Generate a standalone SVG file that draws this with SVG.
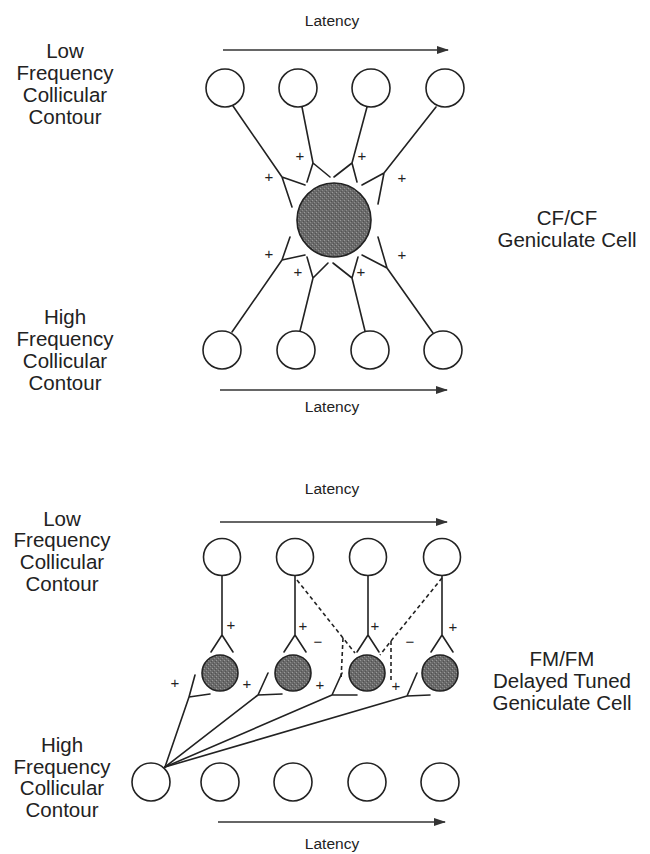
<svg xmlns="http://www.w3.org/2000/svg" width="650" height="854" viewBox="0 0 650 854">
  <defs>
    <style>
      .lbl { font-family: "Liberation Sans", Arial, Helvetica, sans-serif; font-size: 20.5px; fill: #222; text-anchor: middle; }
      .lat { font-family: "Liberation Sans", Arial, Helvetica, sans-serif; font-size: 15.5px; fill: #222; text-anchor: middle; }
      .sgn { font-family: "Liberation Sans", Arial, Helvetica, sans-serif; font-size: 15px; fill: #222; text-anchor: middle; }
      .cell { fill: #fff; stroke: #222; stroke-width: 1.6; }
      .geni { fill: url(#stipple); stroke: #222; stroke-width: 1.6; }
      .ax { fill: none; stroke: #222; stroke-width: 1.6; stroke-linecap: round; stroke-linejoin: round; }
      .inh { fill: none; stroke: #222; stroke-width: 1.6; stroke-dasharray: 4 3; }
      .time { fill: none; stroke: #333; stroke-width: 1.6; marker-end: url(#head); }
    </style>
    <pattern id="stipple" width="4" height="4" patternUnits="userSpaceOnUse">
      <rect width="4" height="4" fill="#6a6a6a"/>
      <rect x="0" y="0" width="1" height="1" fill="#9a9a9a"/>
      <rect x="2" y="2" width="1" height="1" fill="#8c8c8c"/>
      <rect x="3" y="1" width="1" height="1" fill="#505050"/>
      <rect x="1" y="3" width="1" height="1" fill="#555"/>
    </pattern>
    <marker id="head" markerWidth="12" markerHeight="8" refX="11" refY="4" orient="auto" markerUnits="userSpaceOnUse">
      <path d="M0,0 L12,4 L0,8 Z" fill="#333"/>
    </marker>
  </defs>

  <rect width="650" height="854" fill="#fff"/>

  <!-- ===== Upper panel: CF/CF ===== -->
  <g id="latency-top-1">
    <text class="lat" x="332" y="26">Latency</text>
    <line class="time" x1="223" y1="50" x2="448" y2="50"/>
  </g>
  <g id="label-low-1">
    <text class="lbl" x="65" y="58">Low</text>
    <text class="lbl" x="65" y="80">Frequency</text>
    <text class="lbl" x="65" y="102">Collicular</text>
    <text class="lbl" x="65" y="124">Contour</text>
  </g>
  <g id="label-high-1">
    <text class="lbl" x="65" y="324">High</text>
    <text class="lbl" x="65" y="346">Frequency</text>
    <text class="lbl" x="65" y="368">Collicular</text>
    <text class="lbl" x="65" y="390">Contour</text>
  </g>
  <g id="label-cfcf">
    <text class="lbl" x="567" y="225">CF/CF</text>
    <text class="lbl" x="567" y="247">Geniculate Cell</text>
  </g>

  <g id="connectors-1">
    <!-- low-frequency inputs -->
    <path class="ax" d="M233,106 L282,177 M305,185 L282,177 L292,207"/>
    <path class="ax" d="M302,107 L313,163 M307,182 L313,163 L330,177"/>
    <path class="ax" d="M367,107 L352,163 M334,177 L352,163 L357,182"/>
    <path class="ax" d="M436,107 L384,173 M362,185 L384,173 L378,204"/>
    <!-- high-frequency inputs -->
    <path class="ax" d="M232,332 L282,260 M305,255 L282,260 L290,237"/>
    <path class="ax" d="M300,331 L313,278 M307,257 L313,278 L328,263"/>
    <path class="ax" d="M365,331 L352,278 M333,263 L352,278 L358,257"/>
    <path class="ax" d="M433,333 L387,268 M362,255 L387,268 L378,237"/>
    <text class="sgn" x="300" y="161">+</text>
    <text class="sgn" x="362" y="161">+</text>
    <text class="sgn" x="269" y="182">+</text>
    <text class="sgn" x="402" y="183">+</text>
    <text class="sgn" x="269" y="259">+</text>
    <text class="sgn" x="298" y="277">+</text>
    <text class="sgn" x="361" y="277">+</text>
    <text class="sgn" x="402" y="260">+</text>
  </g>

  <g id="lf1-1"><circle class="cell" cx="225" cy="88" r="19"/></g>
  <g id="lf1-2"><circle class="cell" cx="298" cy="88" r="19"/></g>
  <g id="lf1-3"><circle class="cell" cx="371" cy="88" r="19"/></g>
  <g id="lf1-4"><circle class="cell" cx="445" cy="88" r="19"/></g>
  <g id="cfcf-cell"><circle class="geni" cx="334" cy="220" r="37"/></g>
  <g id="hf1-1"><circle class="cell" cx="222" cy="350" r="19"/></g>
  <g id="hf1-2"><circle class="cell" cx="296" cy="350" r="19"/></g>
  <g id="hf1-3"><circle class="cell" cx="370" cy="350" r="19"/></g>
  <g id="hf1-4"><circle class="cell" cx="443" cy="350" r="19"/></g>

  <g id="latency-bottom-1">
    <line class="time" x1="220" y1="390" x2="447" y2="390"/>
    <text class="lat" x="332" y="412">Latency</text>
  </g>

  <!-- ===== Lower panel: FM/FM ===== -->
  <g id="latency-top-2">
    <text class="lat" x="332" y="494">Latency</text>
    <line class="time" x1="220" y1="522" x2="447" y2="522"/>
  </g>
  <g id="label-low-2">
    <text class="lbl" x="62" y="526">Low</text>
    <text class="lbl" x="62" y="547">Frequency</text>
    <text class="lbl" x="62" y="569">Collicular</text>
    <text class="lbl" x="62" y="591">Contour</text>
  </g>
  <g id="label-high-2">
    <text class="lbl" x="62" y="752">High</text>
    <text class="lbl" x="62" y="774">Frequency</text>
    <text class="lbl" x="62" y="795">Collicular</text>
    <text class="lbl" x="62" y="817">Contour</text>
  </g>
  <g id="label-fmfm">
    <text class="lbl" x="562" y="666">FM/FM</text>
    <text class="lbl" x="562" y="688">Delayed Tuned</text>
    <text class="lbl" x="562" y="710">Geniculate Cell</text>
  </g>

  <g id="connectors-2">
    <!-- excitatory low-frequency inputs -->
    <path class="ax" d="M222,576 L222,635 M211,652 L222,635 L233,652"/>
    <path class="ax" d="M295,576 L295,635 M284,652 L295,635 L306,652"/>
    <path class="ax" d="M368,576 L368,635 M357,652 L368,635 L379,652"/>
    <path class="ax" d="M442,576 L442,635 M431,652 L442,635 L453,652"/>
    <text class="sgn" x="231" y="630">+</text>
    <text class="sgn" x="303" y="631">+</text>
    <text class="sgn" x="375" y="631">+</text>
    <text class="sgn" x="453" y="632">+</text>
    <!-- inhibitory inputs -->
    <path class="inh" d="M297,580 L343,638 L355,653 M343,638 L341,680"/>
    <path class="inh" d="M442,578 L391,641 L380,655 M391,641 L391,680"/>
    <text class="sgn" x="318" y="647">−</text>
    <text class="sgn" x="410" y="647">−</text>
    <!-- high-frequency divergent inputs -->
    <path class="ax" d="M165,767 L189,697 M195,675 L189,697 L210,694"/>
    <path class="ax" d="M165,767 L258,695 M268,673 L258,695 L282,694"/>
    <path class="ax" d="M165,767 L332,695 M342,673 L332,695 L357,695"/>
    <path class="ax" d="M165,767 L407,696 M417,673 L407,696 L430,695"/>
    <text class="sgn" x="175" y="688">+</text>
    <text class="sgn" x="247" y="689">+</text>
    <text class="sgn" x="320" y="690">+</text>
    <text class="sgn" x="396" y="691">+</text>
  </g>

  <g id="lf2-1"><circle class="cell" cx="222" cy="557" r="18.5"/></g>
  <g id="lf2-2"><circle class="cell" cx="295" cy="557" r="18.5"/></g>
  <g id="lf2-3"><circle class="cell" cx="368" cy="557" r="18.5"/></g>
  <g id="lf2-4"><circle class="cell" cx="442" cy="557" r="18.5"/></g>
  <g id="fmfm-1"><circle class="geni" cx="220" cy="673" r="18"/></g>
  <g id="fmfm-2"><circle class="geni" cx="293" cy="673" r="18"/></g>
  <g id="fmfm-3"><circle class="geni" cx="367" cy="673" r="18"/></g>
  <g id="fmfm-4"><circle class="geni" cx="440" cy="673" r="18"/></g>
  <g id="hf2-0"><circle class="cell" cx="151" cy="782" r="19"/></g>
  <g id="hf2-1"><circle class="cell" cx="220" cy="782" r="19"/></g>
  <g id="hf2-2"><circle class="cell" cx="293" cy="782" r="19"/></g>
  <g id="hf2-3"><circle class="cell" cx="367" cy="782" r="19"/></g>
  <g id="hf2-4"><circle class="cell" cx="440" cy="782" r="19"/></g>

  <g id="latency-bottom-2">
    <line class="time" x1="218" y1="822" x2="445" y2="822"/>
    <text class="lat" x="332" y="849">Latency</text>
  </g>
</svg>
